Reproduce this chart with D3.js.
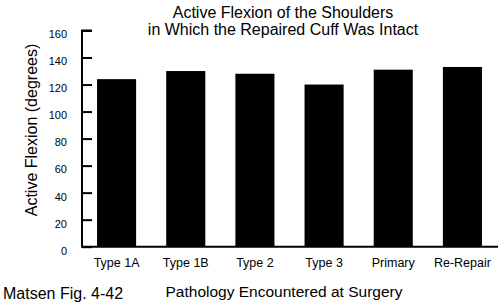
<!DOCTYPE html>
<html>
<head>
<meta charset="utf-8">
<script src="https://cdn.jsdelivr.net/npm/d3@7"></script>
<style>
  body { margin: 0; background: #fff; }
  svg text { font-family: "Liberation Sans", Arial, sans-serif; fill: #000; }
</style>
</head>
<body>
<svg width="500" height="306"></svg>
<script>
// chart data
const categories = ["Type 1A", "Type 1B", "Type 2", "Type 3", "Primary", "Re-Repair"];
const flexion = [124, 130, 128, 120, 131, 133];
const yTicks = [0, 20, 40, 60, 80, 100, 120, 140, 160];

const svg = d3.select("svg");

const x = d3.scaleBand()
  .domain(categories)
  .range([82, 497])
  .paddingInner(0.435)
  .paddingOuter(0.2175);

const y = d3.scaleLinear()
  .domain([0, 160])
  .range([246.7, 30.5]);

// title
svg.append("text")
  .attr("x", 283).attr("y", 17.5)
  .attr("text-anchor", "middle")
  .style("font-size", "16px")
  .text("Active Flexion of the Shoulders");
svg.append("text")
  .attr("x", 283).attr("y", 35)
  .attr("text-anchor", "middle")
  .style("font-size", "16px")
  .text("in Which the Repaired Cuff Was Intact");

// bars
svg.selectAll("rect.bar")
  .data(flexion)
  .enter()
  .append("rect")
  .attr("class", "bar")
  .attr("x", (d, i) => x(categories[i]))
  .attr("y", d => y(d))
  .attr("width", x.bandwidth())
  .attr("height", d => y(0) - y(d))
  .attr("fill", "#000");

// y axis, ticks pointing inward
const yAxis = svg.append("g")
  .attr("transform", "translate(82,0)")
  .call(d3.axisRight(y).tickValues(yTicks).tickSize(10).tickFormat(""));
yAxis.select(".domain").attr("stroke-width", 2).attr("d", "M10,30.5H0V246.7");
yAxis.selectAll(".tick line").attr("stroke-width", 2);

svg.append("g").selectAll("text")
  .data(yTicks)
  .enter()
  .append("text")
  .attr("x", 67)
  .attr("y", d => y(d) + 4)
  .attr("dy", "0.35em")
  .attr("text-anchor", "end")
  .style("font-size", "11px")
  .text(d => d);

// x axis
const xAxis = svg.append("g")
  .attr("transform", `translate(0,${y(0)})`)
  .call(d3.axisBottom(x).tickSize(0).tickPadding(11));
xAxis.select(".domain").attr("stroke-width", 2).attr("d", "M81,0H498");
xAxis.selectAll(".tick text")
  .style("font-family", '"Liberation Sans", Arial, sans-serif')
  .style("font-size", "12.5px");

// axis titles
svg.append("text")
  .attr("transform", "translate(37,130)rotate(-90)")
  .attr("text-anchor", "middle")
  .style("font-size", "16px")
  .text("Active Flexion (degrees)");

svg.append("text")
  .attr("x", 284).attr("y", 297)
  .attr("text-anchor", "middle")
  .style("font-size", "15.5px")
  .text("Pathology Encountered at Surgery");

svg.append("text")
  .attr("x", 3).attr("y", 299)
  .style("font-size", "16px")
  .text("Matsen Fig. 4-42");
</script>
</body>
</html>
